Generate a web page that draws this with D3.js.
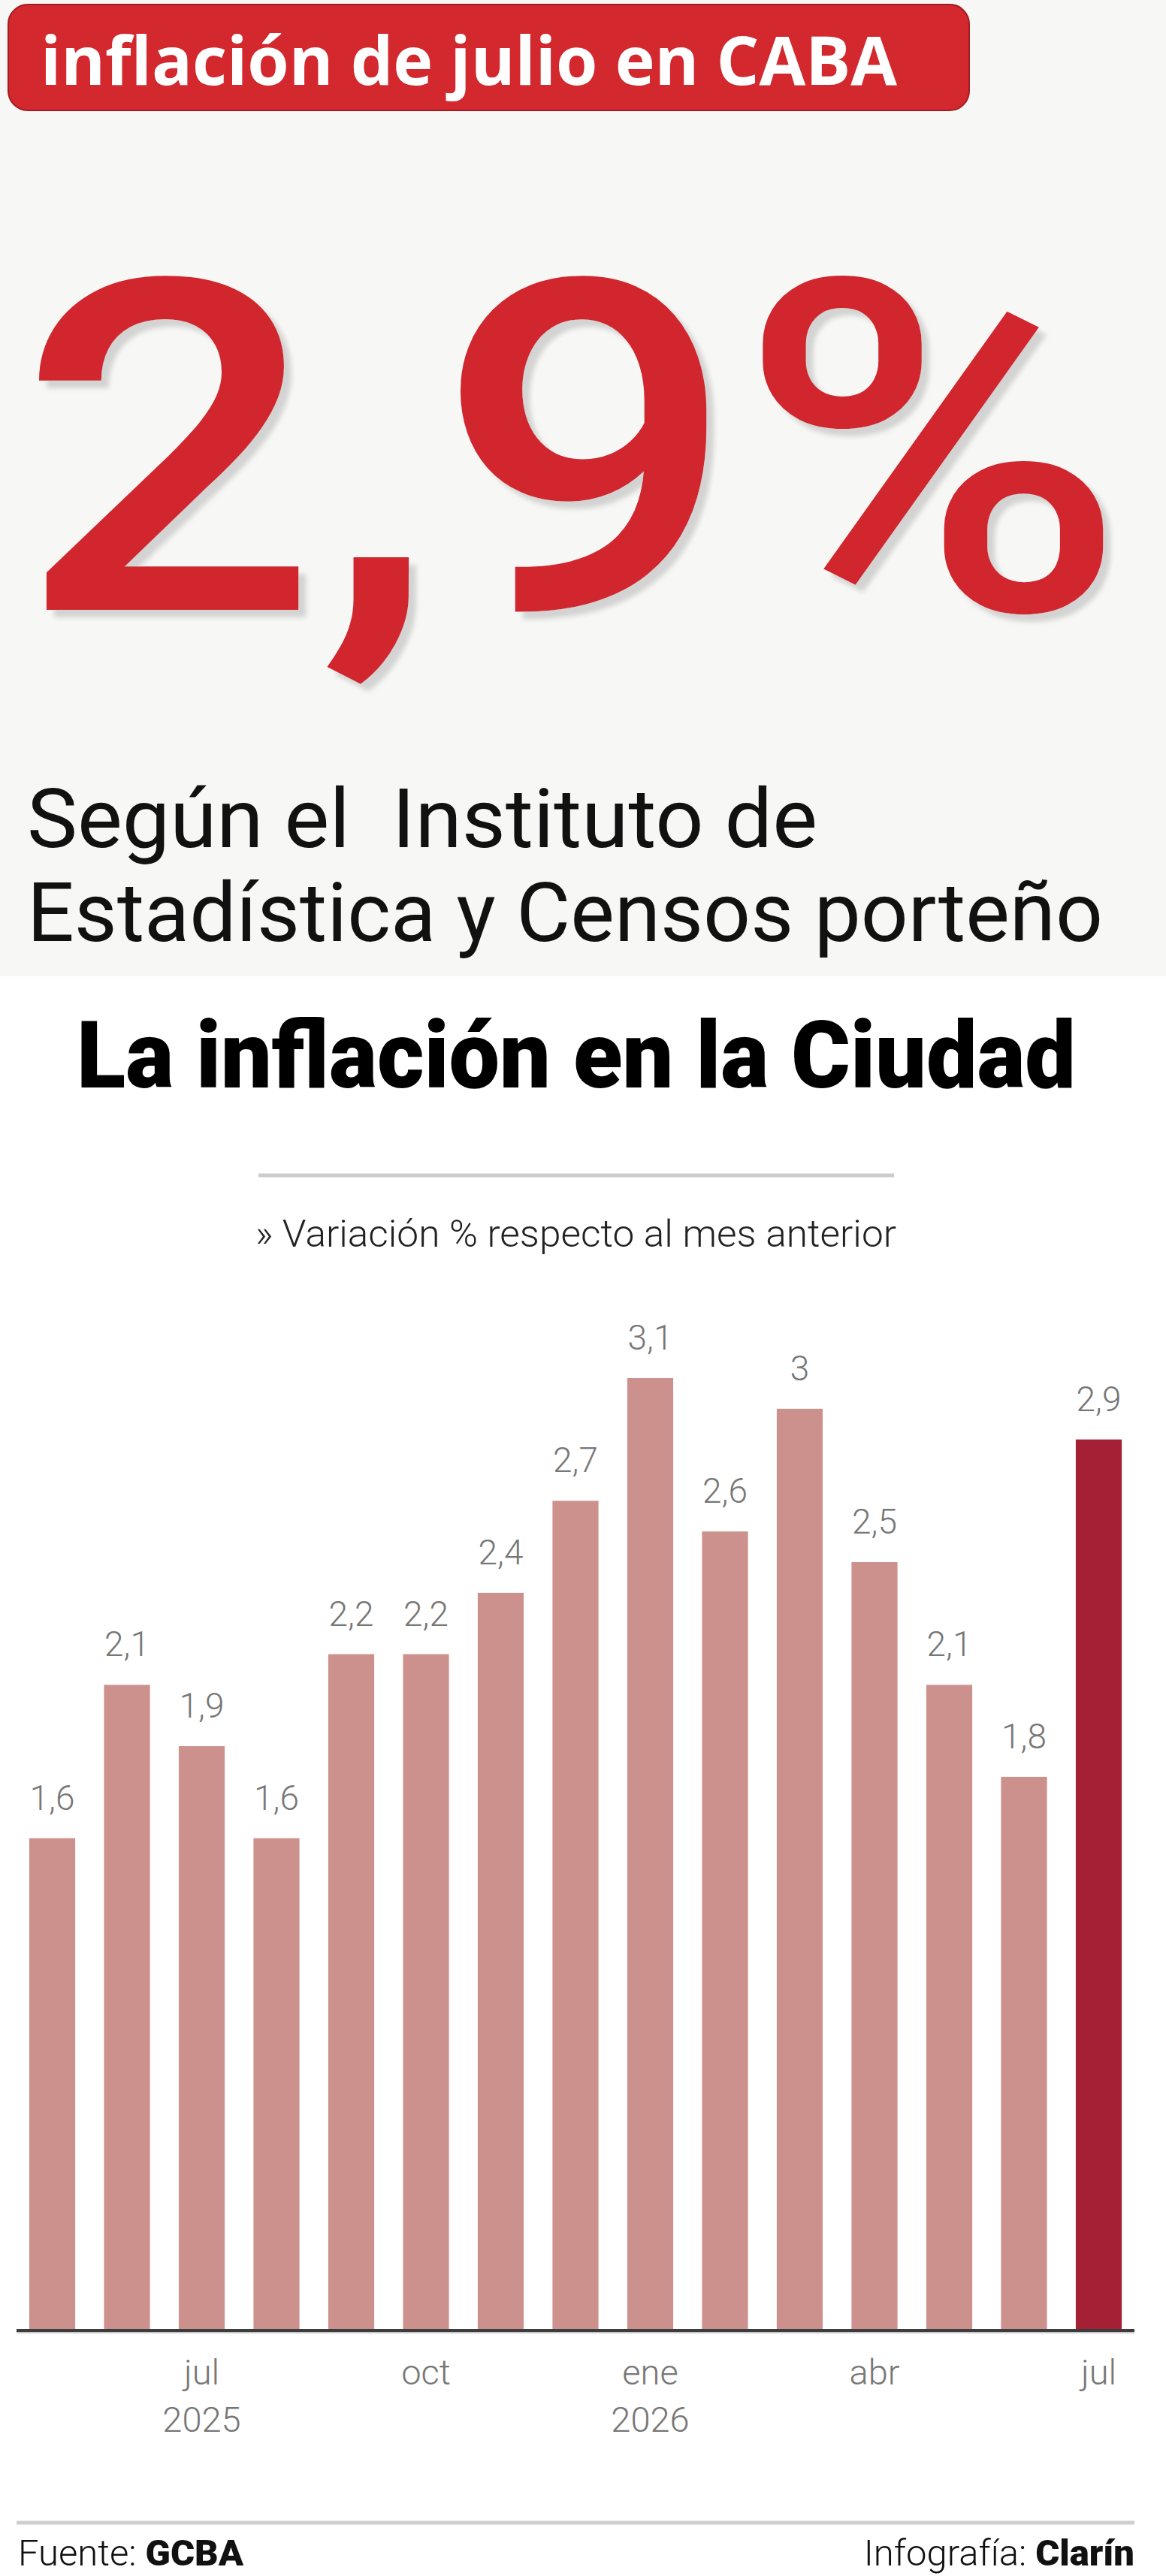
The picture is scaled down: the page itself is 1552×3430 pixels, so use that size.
<!DOCTYPE html>
<html lang="es">
<head>
<meta charset="utf-8">
<title>Inflación de julio en CABA</title>
<script src="https://cdn.jsdelivr.net/npm/d3@7"></script>
<style>
  html, body { margin: 0; padding: 0; background: #fff; }
  svg { display: block; }
  text { white-space: pre; }
</style>
</head>
<body>
<svg id="chart"></svg>
<script>
// --- data ---
const periods = ["2025-05", "2025-06", "2025-07", "2025-08", "2025-09", "2025-10", "2025-11", "2025-12",
                 "2026-01", "2026-02", "2026-03", "2026-04", "2026-05", "2026-06", "2026-07"];
const values = [1.6, 2.1, 1.9, 1.6, 2.2, 2.2, 2.4, 2.7, 3.1, 2.6, 3, 2.5, 2.1, 1.8, 2.9];
const highlight = "2026-07";

const tickPeriods = ["2025-07", "2025-10", "2026-01", "2026-04", "2026-07"];
const tickMonths = ["jul", "oct", "ene", "abr", "jul"];
const tickYears = ["2025", "", "2026", "", ""];

const headline = "inflación de julio en CABA";
const bigNumber = "2,9%";
const introLines = ["Según el  Instituto de", "Estadística y Censos porteño"];
const title = "La inflación en la Ciudad";
const subtitle = "» Variación % respecto al mes anterior";

const W = 1552, H = 3430;

const svg = d3.select("#chart")
  .attr("width", W)
  .attr("height", H)
  .attr("viewBox", `0 0 ${W} ${H}`);

const es = d3.formatLocale({ decimal: ",", thousands: ".", grouping: [3], currency: ["$", ""] });
const fmt = es.format("~r");

// soft shadow for the big figure
const defs = svg.append("defs");
defs.append("filter")
  .attr("id", "soft-shadow")
  .attr("x", "-5%").attr("y", "-5%")
  .attr("width", "115%").attr("height", "115%")
  .append("feDropShadow")
  .attr("dx", 10).attr("dy", 10)
  .attr("stdDeviation", 3)
  .attr("flood-color", "#b5b5b5")
  .attr("flood-opacity", 0.55);

// --- top card ---
svg.append("rect")
  .attr("width", W).attr("height", 1300)
  .attr("fill", "#f7f7f6");

svg.append("rect")
  .attr("x", 11).attr("y", 6)
  .attr("width", 1279).attr("height", 141)
  .attr("rx", 26)
  .attr("fill", "#d2282e")
  .attr("stroke", "#a31c22")
  .attr("stroke-width", 2);

svg.append("text")
  .attr("x", 54).attr("y", 113)
  .attr("textLength", 1140)
  .attr("lengthAdjust", "spacingAndGlyphs")
  .style("font-family", "'Open Sans', sans-serif")
  .style("font-weight", 700)
  .style("font-size", "90px")
  .attr("fill", "#fff")
  .text(headline);

svg.append("text")
  .attr("x", 24).attr("y", 812)
  .attr("textLength", 1475)
  .attr("lengthAdjust", "spacingAndGlyphs")
  .attr("filter", "url(#soft-shadow)")
  .style("font-family", "Roboto, sans-serif")
  .style("font-weight", 500)
  .style("font-size", "617px")
  .attr("fill", "#d1282d")
  .text(bigNumber);

svg.append("g")
  .selectAll("text")
  .data(introLines)
  .join("text")
  .attr("x", 36)
  .attr("y", (d, i) => 1128 + i * 125)
  .attr("textLength", (d, i) => i === 0 ? 1052 : 1432)
  .attr("lengthAdjust", "spacingAndGlyphs")
  .style("font-family", "Roboto, sans-serif")
  .style("font-weight", 400)
  .style("font-size", "110px")
  .attr("fill", "#111")
  .text(d => d);

// --- chart card ---
svg.append("text")
  .attr("x", 102).attr("y", 1448)
  .attr("textLength", 1330)
  .attr("lengthAdjust", "spacingAndGlyphs")
  .style("font-family", "Roboto, sans-serif")
  .style("font-weight", 900)
  .style("font-size", "124px")
  .attr("fill", "#000")
  .text(title);

svg.append("line")
  .attr("x1", 344).attr("x2", 1190)
  .attr("y1", 1565).attr("y2", 1565)
  .attr("stroke", "#cccccc")
  .attr("stroke-width", 5);

svg.append("text")
  .attr("x", 340).attr("y", 1660)
  .attr("textLength", 853)
  .attr("lengthAdjust", "spacingAndGlyphs")
  .style("font-family", "Roboto, sans-serif")
  .style("font-weight", 300)
  .style("font-size", "50px")
  .attr("fill", "#222")
  .text(subtitle);

const baseY = 3101;
const x = d3.scaleBand()
  .domain(periods)
  .range([22, 1510])
  .paddingInner(0.385)
  .paddingOuter(0.17);

const y = d3.scaleLinear()
  .domain([0, 3.1])
  .range([baseY, baseY - 1266]);

const g = svg.append("g");

g.selectAll("rect.bar")
  .data(periods)
  .join("rect")
  .attr("class", "bar")
  .attr("x", d => x(d))
  .attr("width", x.bandwidth())
  .attr("y", (d, i) => y(values[i]))
  .attr("height", (d, i) => baseY - y(values[i]))
  .attr("fill", d => d === highlight ? "#a52035" : "#cc918d");

g.selectAll("text.val")
  .data(periods)
  .join("text")
  .attr("class", "val")
  .attr("x", d => x(d) + x.bandwidth() / 2)
  .attr("y", (d, i) => y(values[i]) - 38)
  .attr("text-anchor", "middle")
  .style("font-family", "Roboto, sans-serif")
  .style("font-weight", 300)
  .style("font-size", "46px")
  .attr("fill", "#777")
  .text((d, i) => fmt(values[i]));

const xAxis = d3.axisBottom(x)
  .tickValues(tickPeriods)
  .tickSize(0)
  .tickPadding(0)
  .tickFormat("");

const axisG = svg.append("g")
  .attr("transform", `translate(0,${baseY})`)
  .call(xAxis);

axisG.select(".domain").remove();

axisG.selectAll(".tick text").each(function (d) {
  const i = tickPeriods.indexOf(d);
  const t = d3.select(this)
    .attr("y", 0)
    .attr("dy", null)
    .attr("fill", "#777")
    .style("font-family", "Roboto, sans-serif")
    .style("font-weight", 300)
    .style("font-size", "47px");
  t.append("tspan").attr("x", 0).attr("y", 74).text(tickMonths[i]);
  if (tickYears[i]) t.append("tspan").attr("x", 0).attr("y", 137).text(tickYears[i]);
});

svg.append("line")
  .attr("x1", 22).attr("x2", 1510)
  .attr("y1", baseY + 2).attr("y2", baseY + 2)
  .attr("stroke", "#3d3d3d")
  .attr("stroke-width", 4);

svg.append("line")
  .attr("x1", 22).attr("x2", 1510)
  .attr("y1", baseY + 5).attr("y2", baseY + 5)
  .attr("stroke", "#c8c8c8")
  .attr("stroke-width", 2);

// --- footer ---
svg.append("line")
  .attr("x1", 22).attr("x2", 1510)
  .attr("y1", 3359).attr("y2", 3359)
  .attr("stroke", "#cfcfcf")
  .attr("stroke-width", 5);

const footL = svg.append("text")
  .attr("x", 24).attr("y", 3416)
  .style("font-family", "Roboto, sans-serif")
  .style("font-size", "49px")
  .attr("fill", "#111");
footL.append("tspan").style("font-weight", 300).text("Fuente: ");
footL.append("tspan").style("font-weight", 900).text("GCBA");

const footR = svg.append("text")
  .attr("x", 1510).attr("y", 3416)
  .attr("text-anchor", "end")
  .style("font-family", "Roboto, sans-serif")
  .style("font-size", "49px")
  .attr("fill", "#111");
footR.append("tspan").style("font-weight", 300).text("Infografía: ");
footR.append("tspan").style("font-weight", 900).text("Clarín");
</script>
</body>
</html>
